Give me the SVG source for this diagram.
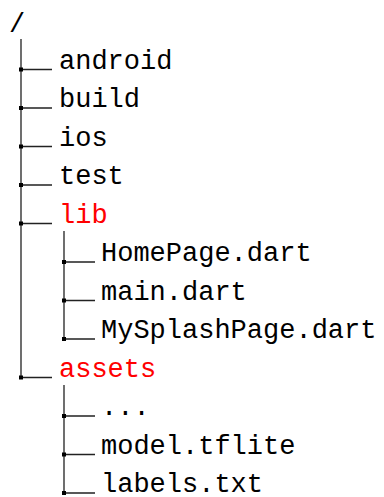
<svg xmlns="http://www.w3.org/2000/svg" width="384" height="497" viewBox="0 0 384 497">
  <style>
    .lbl { font-family: "Liberation Mono", "Courier New", monospace; font-size: 27px; fill: #000; }
    .dir { fill: #ff0000; }
    .edge { stroke: #222; stroke-width: 1.3; fill: none; }
    .dot { fill: #000; }
  </style>
  <rect width="384" height="497" fill="#fff"/>

  <!-- tree connectors: trunks, branches and junction dots -->
  <g id="connectors">
    <path class="edge" d="M21 39 V377.5 M64 231 V339 M64 385 V493"/>
    <path class="edge" d="M21 69.5 H52 M21 108 H52 M21 146.5 H52 M21 185 H52 M21 223.5 H52 M21 377.5 H52"/>
    <path class="edge" d="M64 262 H95 M64 300.5 H95 M64 339 H95 M64 416 H95 M64 454.5 H95 M64 493 H95"/>
    <g class="dot">
      <rect x="19" y="67.5" width="4" height="4"/>
      <rect x="19" y="106" width="4" height="4"/>
      <rect x="19" y="144.5" width="4" height="4"/>
      <rect x="19" y="183" width="4" height="4"/>
      <rect x="19" y="221.5" width="4" height="4"/>
      <rect x="19" y="375.5" width="4" height="4"/>
      <rect x="62" y="260" width="4" height="4"/>
      <rect x="62" y="298.5" width="4" height="4"/>
      <rect x="62" y="337" width="4" height="4"/>
      <rect x="62" y="414" width="4" height="4"/>
      <rect x="62" y="452.5" width="4" height="4"/>
      <rect x="62" y="491" width="4" height="4"/>
    </g>
  </g>

  <g id="root"><text class="lbl" x="9" y="32">/</text></g>
  <g id="android"><text class="lbl" x="59" y="68.5">android</text></g>
  <g id="build"><text class="lbl" x="59" y="107">build</text></g>
  <g id="ios"><text class="lbl" x="59" y="145.5">ios</text></g>
  <g id="test"><text class="lbl" x="59" y="184">test</text></g>
  <g id="lib"><text class="lbl dir" x="59" y="222.5">lib</text></g>
  <g id="homepage"><text class="lbl" x="101" y="261">HomePage.dart</text></g>
  <g id="main"><text class="lbl" x="101" y="299.5">main.dart</text></g>
  <g id="mysplashpage"><text class="lbl" x="101" y="338">MySplashPage.dart</text></g>
  <g id="assets"><text class="lbl dir" x="59" y="376.5">assets</text></g>
  <g id="ellipsis"><text class="lbl" x="101" y="415">...</text></g>
  <g id="model"><text class="lbl" x="101" y="453.5">model.tflite</text></g>
  <g id="labels"><text class="lbl" x="101" y="492">labels.txt</text></g>
</svg>
